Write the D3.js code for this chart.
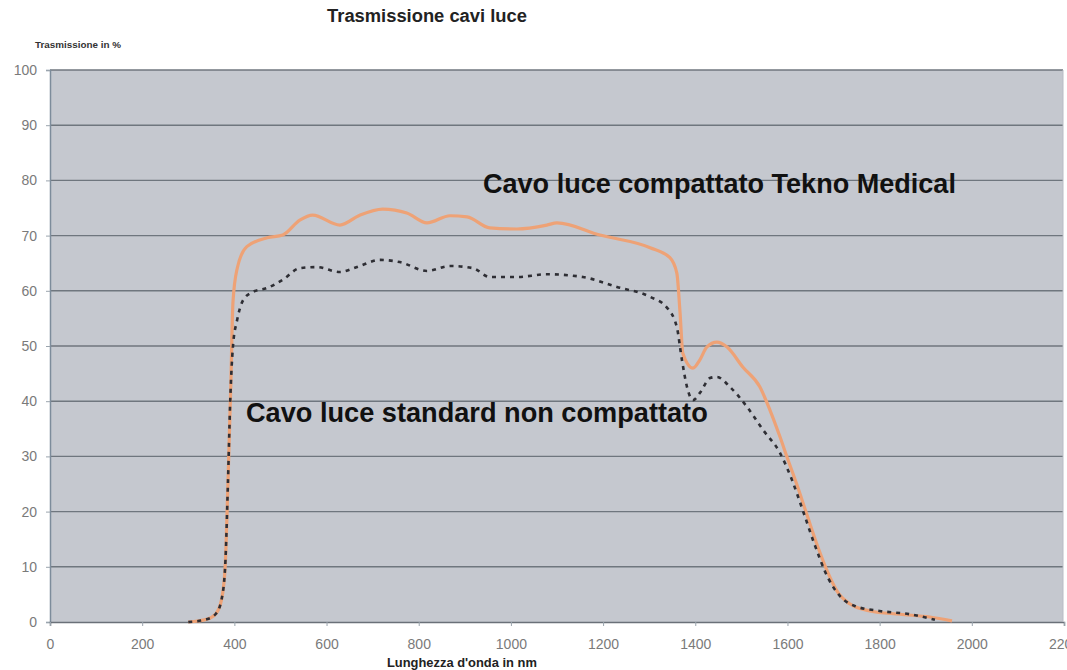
<!DOCTYPE html>
<html>
<head>
<meta charset="utf-8">
<script src="https://cdn.jsdelivr.net/npm/d3@7"></script>
<style>
  html, body { margin: 0; padding: 0; background: #fff; }
  svg { display: block; font-family: "Liberation Sans", Arial, sans-serif; }
</style>
</head>
<body>
<svg id="chart" width="1067" height="670"></svg>
<script>
// ── Data: transmission (%) vs wavelength (nm) ──
const compactWavelength = [300, 340, 360, 372, 380, 386, 392, 397, 406, 427, 471, 505, 542, 570, 629, 672, 722, 774, 818, 868, 905, 954, 1013, 1078, 1100, 1193, 1302, 1345, 1360, 1367, 1373, 1395, 1410, 1425, 1447, 1469, 1503, 1540, 1562, 1584, 1599, 1620, 1644, 1666, 1688, 1709, 1735, 1779, 1844, 1909, 1957];
const compactTrans = [0, 0.5, 1.5, 4, 10, 25, 42, 58, 64, 68, 69.6, 70.1, 72.8, 73.7, 71.9, 73.7, 74.8, 74.1, 72.3, 73.6, 73.4, 71.4, 71.2, 71.9, 72.3, 70.1, 67.8, 66, 63.2, 56, 48.7, 46, 47.5, 49.8, 50.7, 49.8, 46.2, 42.6, 38.4, 33.5, 29.9, 25, 19, 13.6, 8.9, 5.4, 3.3, 2, 1.4, 0.9, 0.2];

const standardWavelength = [300, 340, 360, 372, 380, 386, 391, 397, 406, 419, 440, 471, 505, 542, 579, 629, 666, 716, 759, 818, 868, 918, 954, 1013, 1078, 1156, 1230, 1302, 1338, 1360, 1371, 1382, 1395, 1410, 1432, 1447, 1475, 1512, 1547, 1584, 1610, 1633, 1659, 1688, 1714, 1746, 1800, 1866, 1920];
const standardTrans = [0, 0.5, 1.5, 4, 10, 25, 40, 50, 54.7, 58.3, 59.8, 60.5, 62, 64.1, 64.3, 63.4, 64.3, 65.6, 65.2, 63.6, 64.5, 64.1, 62.5, 62.5, 63, 62.5, 60.7, 58.9, 57, 53.4, 47.5, 42.6, 40.2, 41.5, 44.2, 44.4, 42.6, 39, 34.8, 30.6, 25.7, 20.3, 14, 8, 4.7, 2.9, 2, 1.4, 0.4];

const xTicks = [0, 200, 400, 600, 800, 1000, 1200, 1400, 1600, 1800, 2000, 2200];
const yTicks = [0, 10, 20, 30, 40, 50, 60, 70, 80, 90, 100];

const titleText = "Trasmissione cavi luce";
const yAxisText = "Trasmissione in %";
const xAxisText = "Lunghezza d'onda in nm";
const compactLabel = "Cavo luce compattato Tekno Medical";
const standardLabel = "Cavo luce standard non compattato";

// ── Layout ──
const svg = d3.select("#chart");
const plot = { left: 50, right: 1063, top: 70, bottom: 622 };

const x = d3.scaleLinear().domain([0, 2200]).range([plot.left, 1064]);
const y = d3.scaleLinear().domain([0, 100]).range([plot.bottom, plot.top]);

// plot background
svg.append("rect")
  .attr("x", plot.left).attr("y", plot.top)
  .attr("width", plot.right - plot.left).attr("height", plot.bottom - plot.top)
  .attr("fill", "#c5c8cf");

// horizontal gridlines
svg.append("g")
  .selectAll("line")
  .data(yTicks.filter(d => d > 0))
  .join("line")
  .attr("x1", plot.left).attr("x2", plot.right)
  .attr("y1", d => y(d)).attr("y2", d => y(d))
  .attr("stroke", "#6f767e")
  .attr("stroke-width", 1.4);

// y axis
const yAxis = svg.append("g")
  .attr("transform", `translate(${plot.left},0)`)
  .call(d3.axisLeft(y).tickValues(yTicks).tickFormat(d3.format("d")).tickSize(4).tickPadding(9));
yAxis.select(".domain").attr("stroke", "#7d8c9b").attr("stroke-width", 1.5);
yAxis.selectAll(".tick line").attr("stroke", "#9aa4ad");
yAxis.selectAll("text")
  .attr("fill", "#7a7a7a")
  .attr("font-size", 14)
  .attr("font-family", "'Liberation Sans', Arial, sans-serif");

// x axis
const xAxis = svg.append("g")
  .attr("transform", `translate(0,${plot.bottom})`)
  .call(d3.axisBottom(x).tickValues(xTicks).tickFormat(d3.format("d")).tickSize(4).tickPadding(13));
xAxis.select(".domain").attr("stroke", "#6a7078").attr("stroke-width", 1.5);
xAxis.selectAll(".tick line").attr("stroke", "#9aa4ad");
xAxis.selectAll("text")
  .attr("fill", "#7a7a7a")
  .attr("font-size", 14)
  .attr("font-family", "'Liberation Sans', Arial, sans-serif");

// right border of the plot area
svg.append("line")
  .attr("x1", plot.right).attr("x2", plot.right)
  .attr("y1", plot.top).attr("y2", plot.bottom)
  .attr("stroke", "#b8bcc4");

// ── Curves ──
const line = d3.line()
  .x(d => x(d[0]))
  .y(d => y(d[1]))
  .curve(d3.curveMonotoneX);

const compactPts = compactWavelength.map((w, i) => [w, compactTrans[i]]);
const standardPts = standardWavelength.map((w, i) => [w, standardTrans[i]]);

svg.append("path")
  .datum(compactPts)
  .attr("d", line)
  .attr("fill", "none")
  .attr("stroke", "#eea276")
  .attr("stroke-width", 3.2)
  .attr("stroke-linejoin", "round");

svg.append("path")
  .datum(standardPts)
  .attr("d", line)
  .attr("fill", "none")
  .attr("stroke", "#2e2e34")
  .attr("stroke-width", 2.6)
  .attr("stroke-dasharray", "4,5");

// ── Texts ──
function fitText(sel, width) {
  const w = sel.node().getComputedTextLength();
  const fs = parseFloat(sel.attr("font-size"));
  sel.attr("font-size", fs * width / w);
}

const title = svg.append("text")
  .attr("x", 427).attr("y", 22)
  .attr("text-anchor", "middle")
  .attr("font-size", 13).attr("font-weight", "bold")
  .attr("fill", "#222")
  .text(titleText);
fitText(title, 200);

const yTitle = svg.append("text")
  .attr("x", 35).attr("y", 48)
  .attr("font-size", 9).attr("font-weight", "bold")
  .attr("fill", "#333")
  .text(yAxisText);
fitText(yTitle, 86);

const xTitle = svg.append("text")
  .attr("x", 387).attr("y", 667)
  .attr("font-size", 9).attr("font-weight", "bold")
  .attr("fill", "#222")
  .text(xAxisText);
fitText(xTitle, 150);

const lab1 = svg.append("text")
  .attr("x", 483).attr("y", 193)
  .attr("font-size", 20).attr("font-weight", "bold")
  .attr("fill", "#111")
  .text(compactLabel);
fitText(lab1, 473);

const lab2 = svg.append("text")
  .attr("x", 246).attr("y", 422)
  .attr("font-size", 20).attr("font-weight", "bold")
  .attr("fill", "#111")
  .text(standardLabel);
fitText(lab2, 462);
</script>
</body>
</html>
